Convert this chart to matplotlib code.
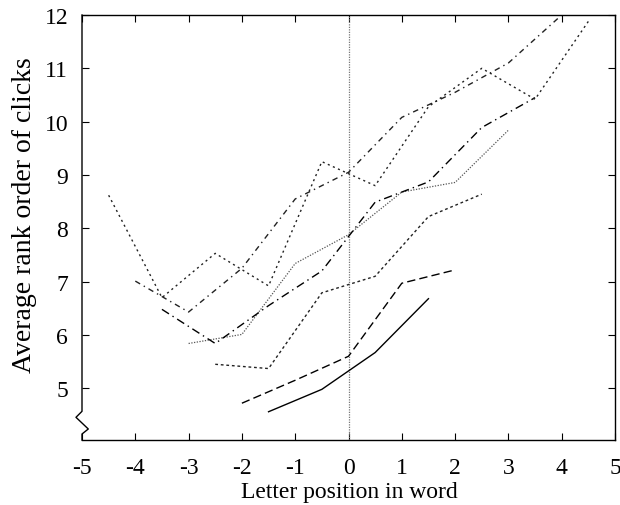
import numpy as np
import matplotlib
matplotlib.use("Agg")
import matplotlib.pyplot as plt

plt.rcParams['font.family'] = ['Liberation Serif', 'DejaVu Serif']
plt.rcParams['axes.unicode_minus'] = False

# letter positions for words of 4..10 letters, centred on 0
pos4 = [-1.5, -0.5, 0.5, 1.5]
rank4 = [4.56, 4.98, 5.67, 6.68]

pos5 = [-2, -1, 0, 1, 2]
rank5 = [4.72, 5.15, 5.60, 6.97, 7.22]

pos6 = [-2.5, -1.5, -0.5, 0.5, 1.5, 2.5]
rank6 = [5.45, 5.37, 6.79, 7.10, 8.22, 8.64]

pos7 = [-3, -2, -1, 0, 1, 2, 3]
rank7 = [5.84, 6.01, 7.34, 7.88, 8.68, 8.86, 9.84]

pos8 = [-3.5, -2.5, -1.5, -0.5, 0.5, 1.5, 2.5, 3.5]
rank8 = [6.48, 5.84, 6.55, 7.20, 8.49, 8.87, 9.89, 10.45]

pos9 = [-4, -3, -2, -1, 0, 1, 2, 3, 4]
rank9 = [7.01, 6.43, 7.25, 8.55, 9.05, 10.08, 10.55, 11.10, 12.0]

pos10 = [-4.5, -3.5, -2.5, -1.5, -0.5, 0.5, 1.5, 2.5, 3.5, 4.5]
rank10 = [8.62, 6.70, 7.53, 6.92, 9.25, 8.80, 10.28, 11.0, 10.42, 11.88]

xticks = [-5, -4, -3, -2, -1, 0, 1, 2, 3, 4, 5]
yticks = [5, 6, 7, 8, 9, 10, 11, 12]

fig = plt.figure(figsize=(6.2, 5.06), dpi=100)
ax = fig.add_axes([82/620, 1 - 441/506, 533/620, 425/506])

ax.axvline(0, color='#777777', lw=0.9, linestyle=(0, (1, 1)))

ax.plot(pos4, rank4, color='black', lw=1.0, linestyle='-')
ax.plot(pos5, rank5, color='black', lw=1.0, linestyle=(0, (6, 3)))
ax.plot(pos6, rank6, color='#222222', lw=1.0, linestyle=(0, (2, 2)))
ax.plot(pos7, rank7, color='#555555', lw=0.9, linestyle=(0, (1, 1.2)))
ax.plot(pos8, rank8, color='black', lw=1.0, linestyle=(0, (6, 3, 1, 3)))
ax.plot(pos9, rank9, color='#222222', lw=1.0, linestyle=(0, (4, 3, 1, 3)))
ax.plot(pos10, rank10, color='#222222', lw=1.0, linestyle=(0, (1.5, 2.5)))

ax.set_xlim(-5, 5)
ax.set_ylim(4.03, 12)
ax.set_xticks(xticks)
ax.set_yticks(yticks)
ax.tick_params(direction='in', length=5, width=0.8, top=True, right=True,
               labelsize=17)
ax.tick_params(axis='x', pad=12)
ax.tick_params(axis='y', pad=10)

for s in ax.spines.values():
    s.set_linewidth(1.0)
ax.spines['left'].set_visible(False)

# left axis with the zigzag break near the bottom
bx = [0, 0, -0.0113, 0.0118, 0, 0]
by = [1, 0.0675, 0.0534, 0.0259, 0.0141, 0]
ax.plot(bx, by, color='black', lw=1.0, transform=ax.transAxes, clip_on=False)

fig.text(349/620, 1 - 498/506, 'Letter position in word', fontsize=17,
         ha='center', va='baseline')
fig.text(25/620, 1 - 215/506, 'Average rank order of clicks', fontsize=20,
         rotation=90, ha='center', va='center')

fig.savefig('out.png', dpi=100)
